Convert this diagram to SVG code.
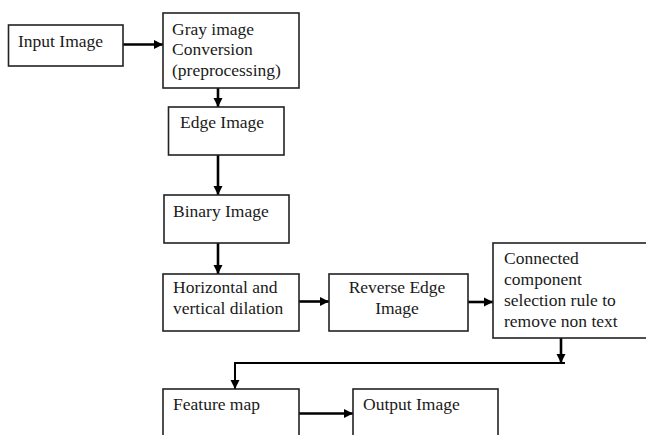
<svg xmlns="http://www.w3.org/2000/svg" width="646" height="435" viewBox="0 0 646 435">
  <style>
    .box { fill: #ffffff; stroke: #222222; stroke-width: 1.6; }
    .lbl { font-family: 'Liberation Serif', 'DejaVu Serif', serif; font-size: 17.5px; fill: #1a1a1a; }
    .mid { text-anchor: middle; }
    .wire { fill: none; stroke: #000000; stroke-width: 2.6; }
  </style>
  <defs>
    <marker id="head" markerUnits="userSpaceOnUse" markerWidth="10" markerHeight="10" refX="9" refY="5" orient="auto">
      <path d="M0,0.5 L9,5 L0,9.5 Z" fill="#000000"/>
    </marker>
  </defs>
  <rect width="646" height="435" fill="#ffffff"/>

  <g id="connectors">
    <line class="wire" x1="123" y1="44.5" x2="163" y2="44.5" marker-end="url(#head)"/>
    <line class="wire" x1="218" y1="88" x2="218" y2="107" marker-end="url(#head)"/>
    <line class="wire" x1="218" y1="155" x2="218" y2="195" marker-end="url(#head)"/>
    <line class="wire" x1="218" y1="243" x2="218" y2="274" marker-end="url(#head)"/>
    <line class="wire" x1="299" y1="301.5" x2="329" y2="301.5" marker-end="url(#head)"/>
    <line class="wire" x1="468" y1="302" x2="493" y2="302" marker-end="url(#head)"/>
    <line class="wire" x1="561" y1="338" x2="561" y2="363" marker-end="url(#head)"/>
    <polyline class="wire" points="565,363 235,363 235,389" marker-end="url(#head)" style="stroke-width:2"/>
    <line class="wire" x1="299" y1="413.5" x2="353" y2="413.5" marker-end="url(#head)"/>
  </g>

  <g font-family="Liberation Serif, DejaVu Serif, serif">
  <g id="input-image">
    <rect class="box" x="8.5" y="25" width="114.5" height="41"/>
    <text class="lbl" x="18" y="47">Input Image</text>
  </g>

  <g id="gray-conversion">
    <rect class="box" x="163" y="13" width="136" height="75"/>
    <text class="lbl" x="172" y="34.5">Gray image</text>
    <text class="lbl" x="172" y="55">Conversion</text>
    <text class="lbl" x="172" y="75.5">(preprocessing)</text>
  </g>

  <g id="edge-image">
    <rect class="box" x="168.5" y="107" width="115.5" height="48"/>
    <text class="lbl" x="180" y="128">Edge Image</text>
  </g>

  <g id="binary-image">
    <rect class="box" x="164" y="195" width="125" height="48"/>
    <text class="lbl" x="173" y="217">Binary Image</text>
  </g>

  <g id="dilation">
    <rect class="box" x="163" y="274" width="136" height="57"/>
    <text class="lbl" x="173" y="293">Horizontal and</text>
    <text class="lbl" x="173" y="314">vertical dilation</text>
  </g>

  <g id="reverse-edge">
    <rect class="box" x="329" y="274" width="139" height="57"/>
    <text class="lbl mid" x="397" y="293">Reverse Edge</text>
    <text class="lbl mid" x="397" y="314">Image</text>
  </g>

  <g id="connected-component">
    <rect class="box" x="493" y="243" width="160" height="95"/>
    <text class="lbl" x="504" y="263.5">Connected</text>
    <text class="lbl" x="504" y="284.5">component</text>
    <text class="lbl" x="504" y="305.5">selection rule to</text>
    <text class="lbl" x="504" y="326.5">remove non text</text>
  </g>

  <g id="feature-map">
    <rect class="box" x="163" y="389" width="136" height="60"/>
    <text class="lbl" x="173" y="410">Feature map</text>
  </g>

  <g id="output-image">
    <rect class="box" x="353" y="389" width="145" height="60"/>
    <text class="lbl" x="363" y="410">Output Image</text>
  </g>
  </g>
</svg>
